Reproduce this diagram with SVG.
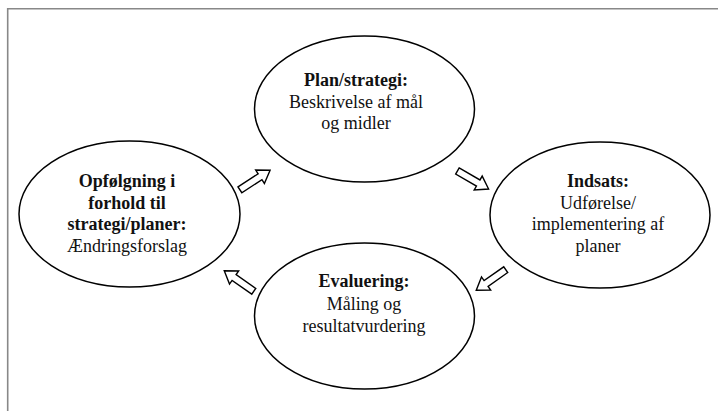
<svg xmlns="http://www.w3.org/2000/svg" width="718" height="411" viewBox="0 0 718 411">
<defs>
<style>
.frame{fill:none;stroke:#888;stroke-width:1.6}
.node ellipse{fill:#fff;stroke:#000;stroke-width:1.5}
text{font-family:"Liberation Serif","Times New Roman",serif;font-size:18px;fill:#111;text-anchor:middle}
.b{font-weight:bold}
.arrow{fill:#fff;stroke:#000;stroke-width:1.4;stroke-linejoin:miter}
</style>
<path id="blk" d="M-18,-3.5 L6,-3.5 L6,-8 L18,0 L6,8 L6,3.5 L-18,3.5 Z"/>
</defs>
<rect width="718" height="411" fill="#fff"/>
<polyline class="frame" points="7.7,411 7.7,8.7 718,8.7"/>

<g id="connectors">
<use href="#blk" class="arrow" transform="translate(255,180) rotate(-33)"/>
<use href="#blk" class="arrow" transform="translate(473,180) rotate(30)"/>
<use href="#blk" class="arrow" transform="translate(491,280) rotate(145)"/>
<use href="#blk" class="arrow" transform="translate(239,281) rotate(-145)"/>
</g>

<g id="node-plan" class="node">
<ellipse cx="364.5" cy="109" rx="110" ry="73"/>
<text x="356" y="86" class="b">Plan/strategi:</text>
<text x="356" y="107.5">Beskrivelse af mål</text>
<text x="356" y="129">og midler</text>
</g>

<g id="node-indsats" class="node">
<ellipse cx="600" cy="215" rx="110" ry="73"/>
<text x="598" y="187" class="b">Indsats:</text>
<text x="598" y="208.5">Udførelse/</text>
<text x="598" y="230">implementering af</text>
<text x="598" y="251.5">planer</text>
</g>

<g id="node-evaluering" class="node">
<ellipse cx="364.5" cy="316" rx="110" ry="73"/>
<text x="364" y="287" class="b">Evaluering:</text>
<text x="364" y="309.5">Måling og</text>
<text x="364" y="332">resultatvurdering</text>
</g>

<g id="node-opfoelgning" class="node">
<ellipse cx="129.5" cy="214" rx="110.5" ry="73"/>
<text x="127" y="187" class="b">Opfølgning i</text>
<text x="127" y="208.5" class="b">forhold til</text>
<text x="127" y="230" class="b">strategi/planer:</text>
<text x="127" y="251.5">Ændringsforslag</text>
</g>
</svg>
